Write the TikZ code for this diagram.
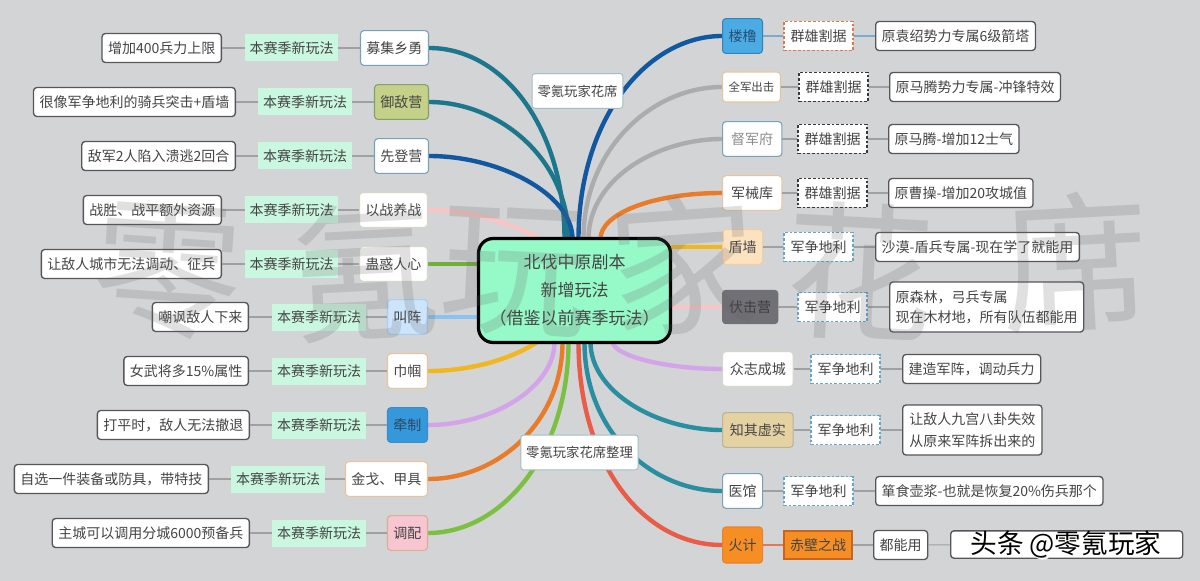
\documentclass[tikz,border=0pt]{standalone}
\usepackage{fontspec}
\setmainfont{Noto Sans CJK SC}
\usetikzlibrary{calc}
\pgfdeclarelayer{bg}\pgfdeclarelayer{edges}\pgfdeclarelayer{wm}
\pgfsetlayers{bg,edges,main,wm}
\definecolor{bgc}{RGB}{211,212,214}
\definecolor{txt}{RGB}{68,68,68}
\definecolor{tagc}{RGB}{202,247,224}
\definecolor{cfill}{RGB}{150,249,200}
\definecolor{leafbd}{RGB}{85,85,90}
\definecolor{thinc}{RGB}{160,160,163}
\definecolor{tealA}{RGB}{28,118,140}
\definecolor{blueA}{RGB}{18,88,160}
\definecolor{pinkA}{RGB}{248,196,196}
\definecolor{greenA}{RGB}{112,176,58}
\definecolor{lblueA}{RGB}{140,194,240}
\definecolor{yellA}{RGB}{242,182,30}
\definecolor{lilacA}{RGB}{212,164,234}
\definecolor{orangeA}{RGB}{232,124,42}
\definecolor{greenB}{RGB}{124,192,66}
\definecolor{grayA}{RGB}{172,172,174}
\definecolor{tealB}{RGB}{40,142,160}
\definecolor{redA}{RGB}{232,92,72}
\definecolor{ydfill}{RGB}{197,208,137}
\definecolor{ydbd}{RGB}{130,160,110}
\definecolor{jzfill}{RGB}{204,228,252}
\definecolor{jzbd}{RGB}{170,205,240}
\definecolor{qzfill}{RGB}{52,152,219}
\definecolor{qzbd}{RGB}{60,140,200}
\definecolor{tpfill}{RGB}{248,198,208}
\definecolor{tpbd}{RGB}{215,175,150}
\definecolor{orbd}{RGB}{232,196,156}
\definecolor{blbd}{RGB}{120,160,185}
\definecolor{lgbd}{RGB}{215,215,200}
\definecolor{llfill}{RGB}{74,172,226}
\definecolor{llbd}{RGB}{50,130,190}
\definecolor{dqfill}{RGB}{253,226,192}
\definecolor{dqbd}{RGB}{242,206,160}
\definecolor{fjfill}{RGB}{112,112,118}
\definecolor{zqfill}{RGB}{229,210,162}
\definecolor{zqbd}{RGB}{185,180,150}
\definecolor{hjfill}{RGB}{246,142,36}
\definecolor{hjbd}{RGB}{235,130,40}
\definecolor{cbbd}{RGB}{200,100,30}
\definecolor{dashO}{RGB}{220,120,80}
\definecolor{dashK}{RGB}{55,55,60}
\definecolor{dashB}{RGB}{100,165,205}
\definecolor{lblbd}{RGB}{160,190,195}
\definecolor{thinB}{RGB}{120,170,210}
\definecolor{thinR}{RGB}{225,120,90}
\tikzset{
  every node/.style={font=\fontsize{10.5}{12.6}\selectfont, text=txt},
  leafbox/.style={draw=leafbd, fill=white, rounded corners=2.5pt, line width=1pt, inner xsep=4.5pt, inner ysep=0pt, minimum height=21.75pt},
  tagbox/.style={fill=tagc, inner xsep=3.4pt, inner ysep=0pt, minimum height=20.25pt},
  dtag/.style={draw=#1, dashed, dash pattern=on 2pt off 1.5pt, fill=white, line width=0.9pt, inner xsep=4.9pt, inner ysep=0pt, minimum height=21.75pt},
  lvone/.style={rounded corners=2.5pt, line width=0.8pt, inner xsep=4.5pt, inner ysep=0pt, minimum height=26pt},
  br/.style={line width=3.3pt, line cap=round},
  thinln/.style={draw=thinc, line width=0.8pt},
  lbl/.style={draw=lblbd, fill=white, rounded corners=2pt, line width=0.7pt, font=\fontsize{10}{12}\selectfont, inner xsep=4pt, minimum height=26pt},
  wmk/.style={text=black!60, opacity=0.2, font=\fontsize{112}{112}\selectfont}
}
\begin{document}
\begin{tikzpicture}[x=0.75pt,y=-0.75pt]
\begin{pgfonlayer}{bg}
\fill[bgc] (0,0) rectangle (1200,581);
\end{pgfonlayer}
\useasboundingbox (0,0) rectangle (1200,581);

% centre
\node[draw=black, fill=cfill, line width=2.4pt, rounded corners=11pt, minimum width=144pt, minimum height=78pt, align=center, font=\fontsize{12.75}{21}\selectfont] (c) at (574.5,290.5) {北伐中原剧本\\新增玩法\\（借鉴以前赛季玩法）};

\node[lbl] (lab1) at (577.5,91) {零氪玩家花席};
\node[lbl] (lab2) at (579.5,452.5) {零氪玩家花席整理};

% ---- left side ----
\node[lvone, anchor=east, fill=white, draw=blbd] (L1) at (429,48) {募集乡勇};
\node[tagbox] (L1t) at (291.5,48) {本赛季新玩法};
\node[leafbox, anchor=east] (L1l) at (222,48) {增加400兵力上限};

\node[lvone, anchor=east, fill=ydfill, draw=ydbd] (L2) at (429,102) {御敌营};
\node[tagbox] (L2t) at (305,102) {本赛季新玩法};
\node[leafbox, anchor=east] (L2l) at (236,102) {很像军争地利的骑兵突击+盾墙};

\node[lvone, anchor=east, fill=white, draw=blbd] (L3) at (429,156) {先登营};
\node[tagbox] (L3t) at (305,156) {本赛季新玩法};
\node[leafbox, anchor=east] (L3l) at (236,156) {敌军2人陷入溃逃2回合};

\node[lvone, anchor=east, fill=white, draw=lgbd] (L4) at (428,210) {以战养战};
\node[tagbox] (L4t) at (291.5,210) {本赛季新玩法};
\node[leafbox, anchor=east] (L4l) at (222,210) {战胜、战平额外资源};

\node[lvone, anchor=east, fill=white, draw=lgbd] (L5) at (428,264) {蛊惑人心};
\node[tagbox] (L5t) at (291.5,264) {本赛季新玩法};
\node[leafbox, anchor=east] (L5l) at (222,264) {让敌人城市无法调动、征兵};

\node[lvone, anchor=east, fill=jzfill, draw=jzbd] (L6) at (428,317) {叫阵};
\node[tagbox] (L6t) at (319,317) {本赛季新玩法};
\node[leafbox, anchor=east] (L6l) at (249,317) {嘲讽敌人下来};

\node[lvone, anchor=east, fill=white, draw=orbd] (L7) at (428,371) {巾帼};
\node[tagbox] (L7t) at (319,371) {本赛季新玩法};
\node[leafbox, anchor=east] (L7l) at (249,371) {女武将多15\%属性};

\node[lvone, anchor=east, fill=qzfill, draw=qzbd, text={rgb,255:red,45;green,70;blue,100}] (L8) at (428,425) {牵制};
\node[tagbox] (L8t) at (319,425) {本赛季新玩法};
\node[leafbox, anchor=east] (L8l) at (250,425) {打平时，敌人无法撤退};

\node[lvone, anchor=east, fill=white, draw=orbd] (L9) at (428,479) {金戈、甲具};
\node[tagbox] (L9t) at (278,479) {本赛季新玩法};
\node[leafbox, anchor=east] (L9l) at (209,479) {自选一件装备或防具，带特技};

\node[lvone, anchor=east, fill=tpfill, draw=tpbd] (L10) at (428,533) {调配};
\node[tagbox] (L10t) at (319,533) {本赛季新玩法};
\node[leafbox, anchor=east] (L10l) at (250,533) {主城可以调用分城6000预备兵};

% ---- right side ----
\node[lvone, anchor=west, fill=llfill, draw=llbd, text={rgb,255:red,40;green,80;blue,120}] (R1) at (722,36) {楼橹};
\node[dtag=dashO] (R1t) at (818.5,36) {群雄割据};
\node[leafbox, anchor=west] (R1l) at (875,36) {原袁绍势力专属6级箭塔};

\node[lvone, anchor=west, fill=white, draw=orbd, minimum height=22.5pt, inner xsep=4.5pt, font=\fontsize{8.6}{10}\selectfont] (R2) at (722,87) {全军出击};
\node[dtag=dashK] (R2t) at (833.5,87) {群雄割据};
\node[leafbox, anchor=west] (R2l) at (889,87) {原马腾势力专属-冲锋特效};

\node[lvone, anchor=west, fill=white, draw=blbd, text=black!45, minimum height=26pt, inner xsep=6.5pt] (R3) at (722,139) {督军府};
\node[dtag=dashK] (R3t) at (832.5,139) {群雄割据};
\node[leafbox, anchor=west] (R3l) at (888,139) {原马腾-增加12士气};

\node[lvone, anchor=west, fill=white, draw=orbd, inner xsep=6.5pt] (R4) at (722,193) {军械库};
\node[dtag=dashK] (R4t) at (832.5,193) {群雄割据};
\node[leafbox, anchor=west] (R4l) at (888,193) {原曹操-增加20攻城值};

\node[lvone, anchor=west, fill=dqfill, draw=dqbd] (R5) at (722,247) {盾墙};
\node[dtag=dashB] (R5t) at (818.5,247) {军争地利};
\node[leafbox, anchor=west] (R5l) at (875,247) {沙漠-盾兵专属-现在学了就能用};

\node[lvone, anchor=west, fill=fjfill, draw=fjfill, text={rgb,255:red,60;green,60;blue,64}, minimum height=25pt, inner xsep=5pt] (R6) at (722,307) {伏击营};
\node[dtag=dashB] (R6t) at (832.5,307) {军争地利};
\node[leafbox, anchor=west, align=left, font=\fontsize{10.5}{15}\selectfont, minimum height=37.5pt, inner xsep=4.5pt] (R6l) at (889,307) {原森林，弓兵专属\\现在木材地，所有队伍都能用};

\node[lvone, anchor=west, fill=white, draw=lgbd, inner xsep=5.5pt] (R7) at (722,369) {众志成城};
\node[dtag=dashB] (R7t) at (845.5,369) {军争地利};
\node[leafbox, anchor=west] (R7l) at (902,369) {建造军阵，调动兵力};

\node[lvone, anchor=west, fill=zqfill, draw=zqbd, inner xsep=5.5pt] (R8) at (722,430) {知其虚实};
\node[dtag=dashB] (R8t) at (845.5,430) {军争地利};
\node[leafbox, anchor=west, align=left, font=\fontsize{10.5}{16.5}\selectfont, minimum height=37.5pt, inner xsep=5pt] (R8l) at (902,430) {让敌人九宫八卦失效\\从原来军阵拆出来的};

\node[lvone, anchor=west, fill=white, draw=blbd] (R9) at (722,491) {医馆};
\node[dtag=dashB] (R9t) at (818.5,491) {军争地利};
\node[leafbox, anchor=west] (R9l) at (875,491) {箪食壶浆-也就是恢复20\%伤兵那个};

\node[lvone, anchor=west, fill=hjfill, draw=hjbd, minimum height=27pt] (R10) at (722,545) {火计};
\node[fill=hjfill, draw=cbbd, line width=0.8pt, inner xsep=4.5pt, inner ysep=0pt, minimum height=21pt] (R10t) at (818,545) {赤壁之战};
\node[leafbox, anchor=west] (R10l) at (873,545) {都能用};
\node[leafbox, anchor=west, minimum width=174pt, minimum height=20.5pt] (R10n) at (950,544.5) {};

% ---- connectors ----
\begin{pgfonlayer}{edges}
\draw[br, tealA] (L1.east) .. controls +(75,0) and +(0,-110) .. ($(c.north)+(-10,2)$);
\draw[br, tealA] (L2.east) .. controls +(70,0) and +(0,-80) .. ($(c.north)+(-6,2)$);
\draw[br, blueA] (L3.east) .. controls +(70,0) and +(0,-45) .. ($(c.north)+(-2,2)$);
\draw[br, pinkA] (L4.east) .. controls +(55,0) and +(-25,-12) .. ($(c.north)+(-30,4)$);
\draw[br, greenA] (L5.east) -- (c.west |- L5.east);
\draw[br, lblueA] (L6.east) -- (c.west |- L6.east);
\draw[br, yellA] (L7.east) .. controls +(50,0) and +(-20,14) .. ($(c.south)+(-36,-3)$);
\draw[br, lilacA] (L8.east) .. controls +(65,0) and +(0,45) .. ($(c.south)+(-20,-2)$);
\draw[br, orangeA] (L9.east) .. controls +(70,0) and +(0,80) .. ($(c.south)+(-12,-2)$);
\draw[br, greenB] (L10.east) .. controls +(75,0) and +(0,110) .. ($(c.south)+(-6,-2)$);

\draw[br, blueA] (R1.west) .. controls +(-75,0) and +(0,-120) .. ($(c.north)+(4,2)$);
\draw[br, grayA] (R2.west) .. controls +(-70,0) and +(0,-90) .. ($(c.north)+(9,2)$);
\draw[br, grayA] (R3.west) .. controls +(-65,0) and +(0,-60) .. ($(c.north)+(14,2)$);
\draw[br, orangeA] (R4.west) .. controls +(-70,0) and +(0,-25) .. ($(c.north)+(26,2)$);
\draw[br, yellA] (R5.west) -- (c.east |- R5.west);
\draw[br, pinkA] (R6.west) -- (c.east |- R6.west);
\draw[br, lilacA] (R7.west) .. controls +(-55,0) and +(0,15) .. ($(c.south)+(38,-3)$);
\draw[br, tealB] (R8.west) .. controls +(-65,0) and +(0,50) .. ($(c.south)+(16,-2)$);
\draw[br, tealB] (R9.west) .. controls +(-70,0) and +(0,90) .. ($(c.south)+(10,-2)$);
\draw[br, redA] (R10.west) .. controls +(-80,0) and +(0,120) .. ($(c.south)+(4,-2)$);
\end{pgfonlayer}

\foreach \n in {1,...,10} {
  \draw[thinln] (L\n) -- (L\n t);
  \draw[thinln] (L\n t) -- (L\n l);
}
\draw[line width=0.8pt, thinB] (R1) -- (R1t);
\draw[line width=0.8pt, thinB] (R1t) -- (R1l);
\foreach \n in {2,...,9} {
  \draw[thinln] (R\n) -- (R\n t);
  \draw[thinln] (R\n t) -- (R\n l);
}
\draw[line width=0.8pt, thinR] (R10) -- (R10t);
\draw[thinln] (R10t) -- (R10l);
\draw[thinln] (R10l) -- (R10n);

% ---- watermarks ----
\begin{pgfonlayer}{wm}
\node[wmk, rotate=-4] (w1) at (168,272) {零};
\node[wmk, rotate=3] (w2) at (365,272) {氪};
\node[wmk, rotate=-3] (w3) at (515,272) {玩};
\node[wmk, rotate=4] (w4) at (683,265) {家};
\node[wmk, rotate=-3] (w5) at (860,272) {花};
\node[wmk, rotate=3] (w6) at (1075,262) {席};
\node[text=white, font=\fontsize{20}{22}\selectfont] (tt2) at (1067.5,546.5) {头条 @零氪玩家};
\node[text=black, font=\fontsize{20}{22}\selectfont] (tt) at (1066,545) {头条 @零氪玩家};
\end{pgfonlayer}
\end{tikzpicture}
\end{document}
